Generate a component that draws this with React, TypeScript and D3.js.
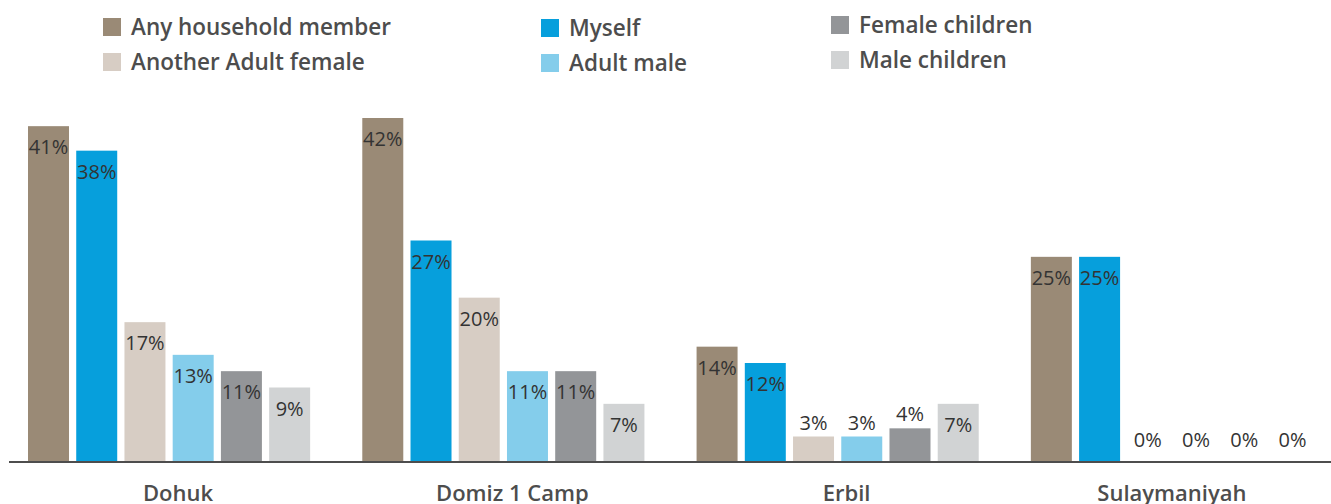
import React from "react";
import * as d3 from "d3";

const regions = ["Dohuk", "Domiz 1 Camp", "Erbil", "Sulaymaniyah"];
const seriesNames = [
  "Any household member",
  "Myself",
  "Another Adult female",
  "Adult male",
  "Female children",
  "Male children",
];
const seriesColors = ["#9a8a76", "#069fdc", "#d7cdc4", "#84cdeb", "#939598", "#d1d3d4"];
// values per region, same order as seriesNames
const dohuk = [41, 38, 17, 13, 11, 9];
const domiz = [42, 27, 20, 11, 11, 7];
const erbil = [14, 12, 3, 3, 4, 7];
const sulaymaniyah = [25, 25, 0, 0, 0, 0];
const values = [dohuk, domiz, erbil, sulaymaniyah];

// legend columns, each listing series indexes top to bottom
const legendCols = [
  { x: 103, y: 18, items: [0, 2] },
  { x: 541, y: 19, items: [1, 3] },
  { x: 831, y: 16, items: [4, 5] },
];

const W = 1331;
const H = 504;
const baseY = 461;

export default function App() {
  const x0 = d3.scaleBand().domain(regions).range([28, 1313]).paddingInner(0.156).paddingOuter(0);
  const x1 = d3
    .scaleBand()
    .domain(seriesNames)
    .range([0, x0.bandwidth()])
    .paddingInner(0.15)
    .paddingOuter(0);
  const y = d3.scaleLinear().domain([0, 42]).range([baseY, 118]);

  return (
    <svg
      width={W}
      height={H}
      style={{ position: "absolute", left: 0, top: 0, background: "#fff" }}
      fontFamily="'Open Sans', sans-serif"
    >
      {legendCols.map((col, ci) => (
        <g key={ci}>
          {col.items.map((si, ri) => (
            <g key={si} transform={`translate(${col.x},${col.y + ri * 35})`}>
              <rect width={18} height={18} fill={seriesColors[si]} />
              <text x={28} y={17} fontSize={22.5} fontWeight={600} fill="#4d4d4d">
                {seriesNames[si]}
              </text>
            </g>
          ))}
        </g>
      ))}

      {regions.map((r, ri) => (
        <g key={r} transform={`translate(${x0(r)},0)`}>
          {seriesNames.map((s, si) => {
            const v = values[ri][si];
            const top = y(v);
            const h = baseY - top;
            const cx = (x1(s) as number) + x1.bandwidth() / 2;
            const inside = h > 40;
            return (
              <g key={s}>
                {h > 0 && (
                  <rect x={x1(s)} y={top} width={x1.bandwidth()} height={h} fill={seriesColors[si]} />
                )}
                <text
                  x={cx}
                  y={inside ? top + 28 : Math.min(top - 7, baseY - 14)}
                  textAnchor="middle"
                  fontSize={20}
                  fontWeight={400}
                  fill="#333"
                >
                  {v}%
                </text>
              </g>
            );
          })}
          <text
            x={x0.bandwidth() / 2 + (ri < 3 ? 9 : 0)}
            y={501}
            textAnchor="middle"
            fontSize={22}
            fontWeight={600}
            fill="#4d4d4d"
          >
            {r}
          </text>
        </g>
      ))}

      <line x1={9} x2={W} y1={baseY + 1} y2={baseY + 1} stroke="#4d4d4d" strokeWidth={2} />
    </svg>
  );
}
